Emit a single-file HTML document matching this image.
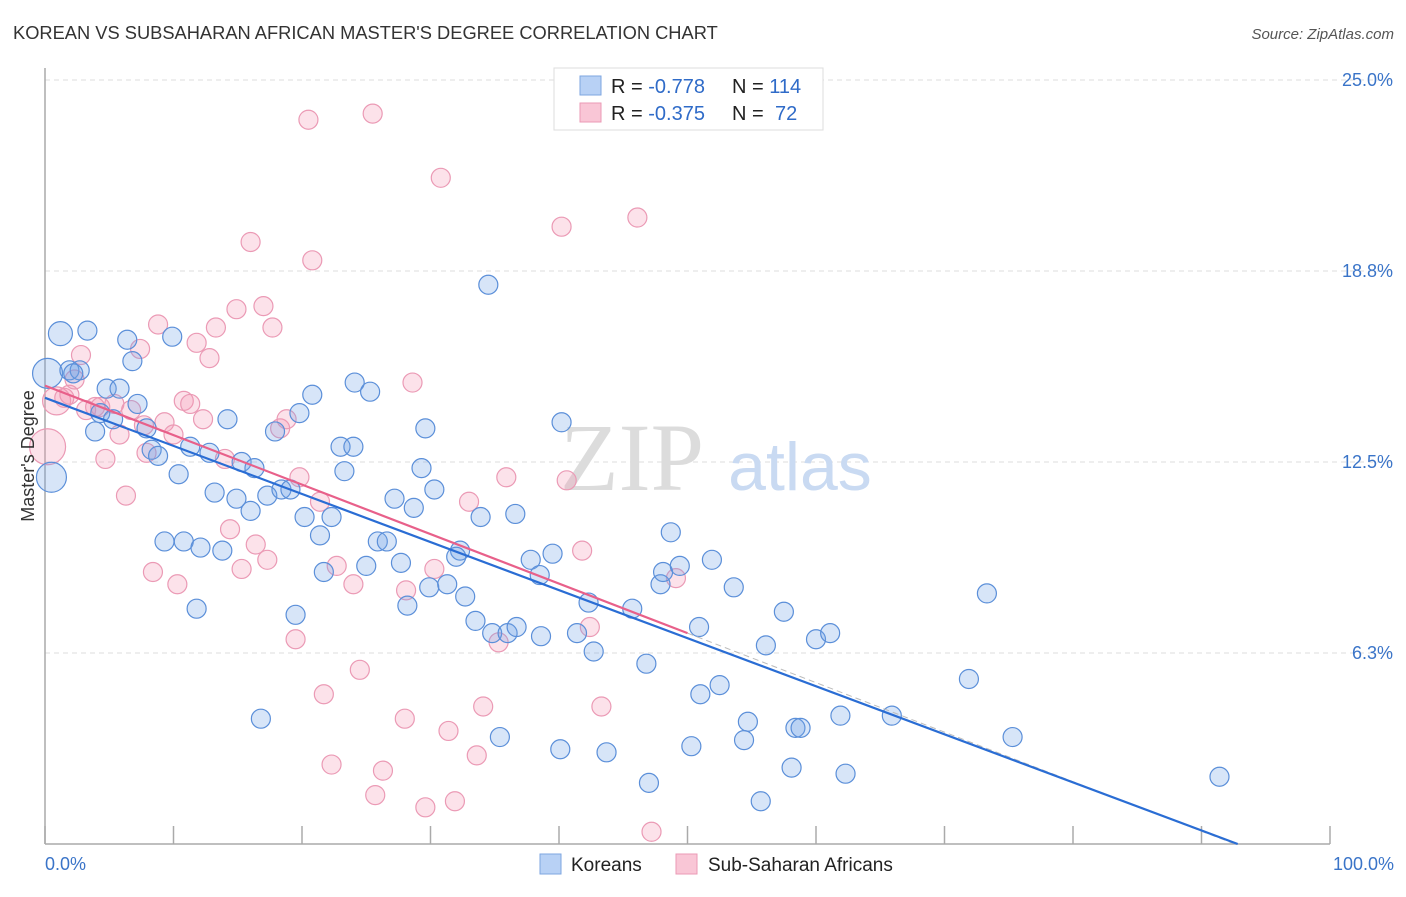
<!DOCTYPE html>
<html><head><meta charset="utf-8">
<style>
body{margin:0;background:#fff;font-family:"Liberation Sans",sans-serif;}
</style></head>
<body>
<svg id="chart" width="1406" height="892" xmlns="http://www.w3.org/2000/svg" style="font-family:'Liberation Sans',sans-serif">
<text x="13" y="39" font-size="18.3" fill="#333">KOREAN VS SUBSAHARAN AFRICAN MASTER'S DEGREE CORRELATION CHART</text>
<text x="1394" y="39" font-size="15" fill="#555" text-anchor="end" font-style="italic">Source: ZipAtlas.com</text>
<g id="grid"></g>
<g>
<text x="632" y="490" font-size="96" fill="#dcdcdc" text-anchor="middle" font-family="Liberation Serif,serif">ZIP</text>
<text x="800" y="490" font-size="68" fill="#c9daf2" text-anchor="middle">atlas</text>
</g>
<line x1="45" y1="68" x2="45" y2="844" stroke="#aaa" stroke-width="1.5"/>
<line x1="45" y1="844" x2="1330" y2="844" stroke="#aaa" stroke-width="1.5"/>
<g id="ticks"></g>
<g id="pts"></g>
<g id="lines"></g>
<text transform="translate(34,456) rotate(-90)" font-size="18" fill="#333" text-anchor="middle">Master's Degree</text>
<text x="45" y="870" font-size="18" fill="#3a74c8">0.0%</text>
<text x="1394" y="870" font-size="18" fill="#3a74c8" text-anchor="end">100.0%</text>
<g>
<rect x="554" y="68" width="269" height="62" fill="#fff" stroke="#ddd"/>
<rect x="580" y="76" width="21" height="19" fill="#b8d1f5" stroke="#7ea6e0"/>
<rect x="580" y="103" width="21" height="19" fill="#f9c6d6" stroke="#eb9ab5"/>
<text x="611" y="93" font-size="20" fill="#222">R = <tspan fill="#2f6bc8">-0.778</tspan><tspan x="732">N = </tspan><tspan fill="#2f6bc8">114</tspan></text>
<text x="611" y="120" font-size="20" fill="#222">R = <tspan fill="#2f6bc8">-0.375</tspan><tspan x="732">N = </tspan><tspan fill="#2f6bc8" x="775">72</tspan></text>
</g>
<g>
<rect x="540" y="854" width="21" height="20" fill="#b8d1f5" stroke="#7ea6e0"/>
<text x="571" y="871" font-size="19" fill="#222">Koreans</text>
<rect x="676" y="854" width="21" height="20" fill="#f9c6d6" stroke="#eb9ab5"/>
<text x="708" y="871" font-size="19" fill="#222">Sub-Saharan Africans</text>
</g>
</svg>
<script>
const yTicks=[6.25,12.5,18.75,25];
const yTickLabels=["6.3%","12.5%","18.8%","25.0%"];
const xTicks=[0,10,20,30,40,50,60,70,80,90,100];
const koreanX=[1.2,0.2,0.5,3.3,1.9,2.7,2.2,6.4,9.9,6.8,4.8,5.8,7.2,4.3,5.3,3.9,7.9,8.3,8.8,11.3,12.8,10.4,14.2,15.3,16.3,13.2,14.9,16.0,17.3,18.4,19.1,17.9,19.8,20.8,24.1,25.3,23.0,24.0,23.3,20.2,22.3,21.4,9.3,10.8,12.1,13.8,11.8,16.8,19.5,21.7,25.0,25.9,26.6,27.7,27.2,28.7,29.3,30.3,29.6,28.2,29.9,31.3,32.3,32.0,32.7,33.5,33.9,34.5,36.6,34.8,36.0,36.7,35.4,37.8,39.5,38.5,38.6,40.2,40.1,41.4,42.3,42.7,43.7,45.7,46.8,47.0,47.9,48.1,49.4,48.7,50.9,51.0,51.9,52.5,50.3,53.6,54.7,54.4,56.1,57.5,58.4,58.8,58.1,55.7,60.0,61.1,61.9,62.3,65.9,71.9,73.3,75.3,91.4];
const koreanY=[16.7,15.4,12.0,16.8,15.5,15.5,15.4,16.5,16.6,15.8,14.9,14.9,14.4,14.1,13.9,13.5,13.6,12.9,12.7,13.0,12.8,12.1,13.9,12.5,12.3,11.5,11.3,10.9,11.4,11.6,11.6,13.5,14.1,14.7,15.1,14.8,13.0,13.0,12.2,10.7,10.7,10.1,9.9,9.9,9.7,9.6,7.7,4.1,7.5,8.9,9.1,9.9,9.9,9.2,11.3,11.0,12.3,11.6,13.6,7.8,8.4,8.5,9.6,9.4,8.1,7.3,10.7,18.3,10.8,6.9,6.9,7.1,3.5,9.3,9.5,8.8,6.8,13.8,3.1,6.9,7.9,6.3,3.0,7.7,5.9,2.0,8.5,8.9,9.1,10.2,7.1,4.9,9.3,5.2,3.2,8.4,4.0,3.4,6.5,7.6,3.8,3.8,2.5,1.4,6.7,6.9,4.2,2.3,4.2,5.4,8.2,3.5,2.2];
const koreanSize=[12,15,15];
const africanX=[0.2,0.9,1.5,1.9,2.8,2.3,3.9,4.3,3.2,5.4,6.7,4.7,5.8,6.3,7.4,8.8,7.7,9.3,10.0,7.9,8.4,10.3,10.8,11.3,11.8,12.8,13.3,12.3,14.0,14.9,16.0,17.0,17.7,18.3,18.8,14.4,15.3,16.4,17.3,19.5,19.8,20.5,20.8,21.4,22.7,24.0,21.7,24.5,22.3,25.5,25.7,26.3,28.6,28.0,28.1,29.6,30.8,31.4,31.9,30.3,33.0,34.1,33.6,35.3,35.9,40.6,40.2,41.8,42.4,43.3,46.1,49.1,47.2];
const africanY=[13.0,14.5,14.6,14.7,16.0,15.2,14.3,14.3,14.2,14.4,14.2,12.6,13.4,11.4,16.2,17.0,13.7,13.8,13.4,12.8,8.9,8.5,14.5,14.4,16.4,15.9,16.9,13.9,12.6,17.5,19.7,17.6,16.9,13.6,13.9,10.3,9.0,9.8,9.3,6.7,12.0,23.7,19.1,11.2,9.1,8.5,4.9,5.7,2.6,23.9,1.6,2.4,15.1,4.1,8.3,1.2,21.8,3.7,1.4,9.0,11.2,4.5,2.9,6.6,12.0,11.9,20.2,9.6,7.1,4.5,20.5,8.7,0.4];
const africanSize=[18,14];
const koreanTrend=[14.6,-0.1573];
const africanTrend=[15.0,-0.162];
const africanSolidEnd=50;

const X=v=>45+v*12.85, Y=v=>844-v*30.56;
const NS="http://www.w3.org/2000/svg";
function mk(tag,attrs,parent){const e=document.createElementNS(NS,tag);for(const k in attrs)e.setAttribute(k,attrs[k]);parent.appendChild(e);return e;}
const grid=document.getElementById('grid');
yTicks.forEach((t,i)=>{
  const l=mk('line',{x1:45,x2:1395,y1:Y(t),y2:Y(t),stroke:'#ddd','stroke-dasharray':'5,4'},grid);
  
  
  const tx=mk('text',{x:1393,y:Y(t)+6,'font-size':18,fill:'#3a74c8','text-anchor':'end'},grid);
  tx.textContent=yTickLabels[i];
  
  
});
const ticks=document.getElementById('ticks');
xTicks.forEach(t=>{
  const l=mk('line',{x1:X(t),x2:X(t),y1:826,y2:844,stroke:'#aaa','stroke-width':1.5},ticks);
  
  
});
const pts=document.getElementById('pts');
africanX.forEach((x,i)=>{
  const c=mk('circle',{cx:X(x),cy:Y(africanY[i]),r:africanSize[i]||9.5,fill:'rgba(243,150,180,0.28)',stroke:'#eb9ab5','stroke-width':1.2},pts);
  
  
});
koreanX.forEach((x,i)=>{
  const c=mk('circle',{cx:X(x),cy:Y(koreanY[i]),r:koreanSize[i]||9.5,fill:'rgba(110,160,230,0.28)',stroke:'#5b8fd9','stroke-width':1.2},pts);
  
  
});
const lines=document.getElementById('lines');
const kEnd=-koreanTrend[0]/koreanTrend[1];
const aEnd=-africanTrend[0]/africanTrend[1];
const d=mk('line',{x1:X(africanSolidEnd),y1:Y(africanTrend[0]+africanTrend[1]*africanSolidEnd),x2:X(aEnd),y2:Y(0),stroke:'#bbb','stroke-width':1,'stroke-dasharray':'6,4'},lines);


const kl=mk('line',{x1:X(0),y1:Y(koreanTrend[0]),x2:X(kEnd),y2:Y(0),stroke:'#2a6dd4','stroke-width':2.2},lines);


const al=mk('line',{x1:X(0),y1:Y(africanTrend[0]),x2:X(africanSolidEnd),y2:Y(africanTrend[0]+africanTrend[1]*africanSolidEnd),stroke:'#e8608a','stroke-width':2.2},lines);


</script>
</body></html>
